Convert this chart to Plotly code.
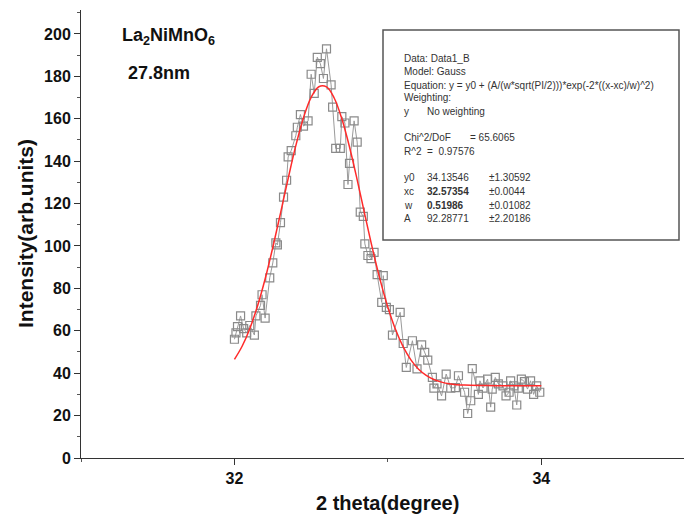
import plotly.graph_objects as go

# ---- data ----
theta = [32.00, 32.01, 32.02, 32.04, 32.06, 32.08, 32.10, 32.13, 32.14, 32.17,
         32.18, 32.20, 32.23, 32.25, 32.27, 32.28, 32.30, 32.32, 32.34, 32.35,
         32.37, 32.40, 32.41, 32.43, 32.45, 32.48, 32.50, 32.52, 32.54, 32.56,
         32.58, 32.60, 32.63, 32.64, 32.66, 32.69, 32.70, 32.72, 32.74, 32.75,
         32.78, 32.80, 32.82, 32.84, 32.85, 32.87, 32.89, 32.91, 32.93, 32.96,
         32.97, 32.99, 33.01, 33.03, 33.08, 33.10, 33.12, 33.16, 33.19, 33.22,
         33.24, 33.26, 33.29, 33.30, 33.32, 33.35, 33.38, 33.41, 33.44, 33.46,
         33.50, 33.52, 33.54, 33.55, 33.59, 33.60, 33.62, 33.65, 33.67, 33.68,
         33.70, 33.72, 33.75, 33.77, 33.79, 33.80, 33.82, 33.84, 33.85, 33.87,
         33.89, 33.91, 33.93, 33.95, 33.97, 33.99]
intensity = [56, 59, 62, 67, 61, 59, 62.5, 58, 67, 72,
             77, 66, 85, 92, 101.5, 100.5, 111, 123, 131, 142,
             145, 152, 156, 162, 156.5, 159, 181, 172, 189, 186,
             179, 193, 176, 165.5, 146, 146, 161, 158, 129, 139,
             159, 149, 116, 114, 101, 95.5, 94, 97, 86.5, 73.4,
             86, 71, 70, 58, 68.7, 54, 42.7, 55.3, 42, 53.4,
             49.8, 46.2, 38, 33, 35, 29.3, 39.6, 33, 33.2, 38.8,
             31, 21, 27, 42.2, 30, 36.4, 33, 37.2, 24, 32.5,
             38, 35, 34, 29.3, 31, 36.4, 34, 25, 33, 37.2,
             36, 32.5, 36.4, 30, 34, 31]

fit_x = [32.00, 32.05, 32.10, 32.15, 32.20, 32.25, 32.30, 32.35, 32.40, 32.45,
         32.50, 32.55, 32.60, 32.65, 32.70, 32.75, 32.80, 32.85, 32.90, 32.95,
         33.00, 33.05, 33.10, 33.15, 33.20, 33.25, 33.30, 33.35, 33.40, 33.45,
         33.50, 33.60, 33.70, 33.80, 33.90, 34.00]
fit_y = [46.5, 52.7, 61.0, 71.6, 84.4, 99.3, 115.4, 131.8, 147.3, 160.5,
         170.1, 175.1, 175.0, 169.8, 160.0, 146.7, 131.2, 114.7, 98.6, 83.9,
         71.1, 60.6, 52.4, 46.3, 41.9, 39.0, 37.0, 35.8, 35.0, 34.6,
         34.4, 34.2, 34.1, 34.1, 34.1, 34.1]

x_ticks = [32, 34]
y_ticks = [0, 20, 40, 60, 80, 100, 120, 140, 160, 180, 200]

box_lines = [
    ("Data: Data1_B", None),
    ("Model: Gauss", None),
    ("Equation: y = y0 + (A/(w*sqrt(PI/2)))*exp(-2*((x-xc)/w)^2)", None),
    ("Weighting:", None),
    ("y", "No weighting"),
    ("Chi^2/DoF", "= 65.6065"),
    ("R^2  =  0.97576", None),
]
param_names = ["y0", "xc", "w", "A"]
param_values = ["34.13546", "<b>32.57354</b>", "<b>0.51986</b>", "92.28771"]
param_errors = ["±1.30592", "±0.0044", "±0.01082", "±2.20186"]

# ---- layout geometry (pixels of the 684x516 page) ----
W, H = 684, 516
L, R, T, B = 81, 0, 10, 58
PW, PH = W - L - R, H - T - B


def px(xp):
    return (xp - L) / PW


def py(yp):
    return (H - B - yp) / PH


FONT = "Arial, Liberation Sans, sans-serif"
BOXFONT = dict(family=FONT, size=10, color="#333333")

fig = go.Figure()
fig.add_trace(go.Scatter(
    x=theta, y=intensity, mode="lines+markers",
    line=dict(color="#9a9a9a", width=1),
    marker=dict(symbol="square-open", size=8, color="#8a8a8a",
                line=dict(width=1.2, color="#8a8a8a")),
    showlegend=False, hoverinfo="x+y"))
fig.add_trace(go.Scatter(
    x=fit_x, y=fit_y, mode="lines", line=dict(color="#ff2a2a", width=1.5, shape="spline"),
    showlegend=False))

annotations = []
rows_y = [58.3, 71.7, 85.7, 98.0, 111.7, 137.3, 151.0]
for (a, b), yy in zip(box_lines, rows_y):
    annotations.append(dict(x=px(402), y=py(yy), xref="paper", yref="paper", text=a,
                            showarrow=False, xanchor="left", yanchor="middle",
                            font=BOXFONT))
    if b is not None:
        bx = 425 if a == "y" else 468
        annotations.append(dict(x=px(bx), y=py(yy), xref="paper", yref="paper", text=b,
                                showarrow=False, xanchor="left", yanchor="middle",
                                font=BOXFONT))
param_y = [177.7, 191.5, 205.3, 219.0]
for n, v, e, yy in zip(param_names, param_values, param_errors, param_y):
    for txt, xx in ((n, 402), (v, 425), (e, 487)):
        annotations.append(dict(x=px(xx), y=py(yy), xref="paper", yref="paper", text=txt,
                                showarrow=False, xanchor="left", yanchor="middle",
                                font=BOXFONT))

annotations.append(dict(x=px(120), y=py(37), xref="paper", yref="paper",
                        text="<b>La<sub>2</sub>NiMnO<sub>6</sub></b>", showarrow=False,
                        xanchor="left", yanchor="middle",
                        font=dict(family=FONT, size=18, color="#111111")))
annotations.append(dict(x=px(126), y=py(73), xref="paper", yref="paper",
                        text="<b>27.8nm</b>", showarrow=False,
                        xanchor="left", yanchor="middle",
                        font=dict(family=FONT, size=18, color="#111111")))
annotations.append(dict(x=px(387), y=py(503), xref="paper", yref="paper",
                        text="<b>2 theta(degree)</b>", showarrow=False,
                        xanchor="center", yanchor="middle",
                        font=dict(family=FONT, size=20, color="#111111")))
annotations.append(dict(x=px(25), y=py(234), xref="paper", yref="paper",
                        text="<b>Intensity(arb.units)</b>", showarrow=False, textangle=-90,
                        xanchor="center", yanchor="middle",
                        font=dict(family=FONT, size=21, color="#111111")))

fig.update_layout(
    width=W, height=H,
    margin=dict(l=L, r=R, t=T, b=B, pad=0),
    paper_bgcolor="white", plot_bgcolor="white",
    annotations=annotations,
    shapes=[dict(type="rect", xref="paper", yref="paper",
                 x0=px(383), x1=px(679), y0=py(240), y1=py(30),
                 line=dict(color="#555555", width=1.5), fillcolor="rgba(0,0,0,0)")],
)
fig.update_xaxes(
    range=[31.0, 34.93], showgrid=False, zeroline=False,
    showline=True, linecolor="#333333", linewidth=1,
    tickmode="array", tickvals=x_ticks, ticktext=[f"<b>{v}</b>" for v in x_ticks],
    ticks="outside", ticklen=6, tickcolor="#333333",
    minor=dict(dtick=1, tick0=31, ticks="outside", ticklen=3, tickcolor="#555555"),
    tickfont=dict(family=FONT, size=16, color="#111111"),
)
fig.update_yaxes(
    range=[0, 211.3], showgrid=False, zeroline=False,
    showline=True, linecolor="#333333", linewidth=1,
    tickmode="array", tickvals=y_ticks, ticktext=[f"<b>{v}</b>" for v in y_ticks],
    ticks="outside", ticklen=6, tickcolor="#333333",
    minor=dict(dtick=10, tick0=0, ticks="outside", ticklen=3, tickcolor="#555555"),
    tickfont=dict(family=FONT, size=16, color="#111111"),
)

fig.write_html("out.html", config={"displayModeBar": False},
               post_script="document.body.style.margin='0px';document.body.style.overflow='hidden';")
